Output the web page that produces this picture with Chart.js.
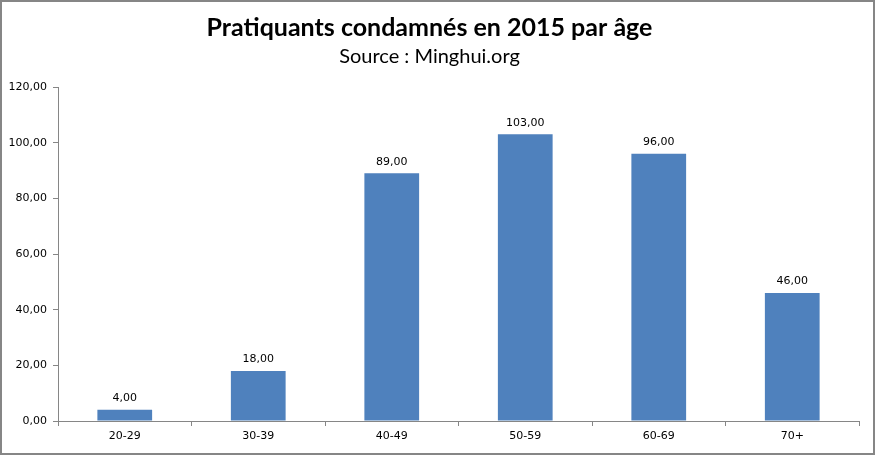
<!DOCTYPE html>
<html>
<head>
<meta charset="utf-8">
<script src="https://cdn.jsdelivr.net/npm/chart.js@4/dist/chart.umd.min.js"></script>
<style>
  html, body { margin: 0; padding: 0; background: #fff; }
  #wrap { width: 875px; height: 455px; position: relative; }
</style>
</head>
<body>
<div id="wrap"><canvas id="chart"></canvas></div>
<script>
const categories = ["20-29", "30-39", "40-49", "50-59", "60-69", "70+"];
const counts = [4, 18, 89, 103, 96, 46];
const yTicks = [0, 20, 40, 60, 80, 100, 120];

const fmt = (v) => v.toFixed(2).replace(".", ",");

// value labels above each bar
const barLabels = {
  id: "barLabels",
  afterDatasetsDraw(chart) {
    const ctx = chart.ctx;
    const meta = chart.getDatasetMeta(0);
    ctx.save();
    ctx.font = "11px 'DejaVu Sans', sans-serif";
    ctx.fillStyle = "#000";
    ctx.textAlign = "center";
    ctx.textBaseline = "bottom";
    meta.data.forEach((bar, i) => {
      ctx.fillText(fmt(counts[i]), bar.x, bar.y - 6);
    });
    ctx.restore();
  }
};

// grey frame round the whole chart
const frame = {
  id: "frame",
  afterDraw(chart) {
    const ctx = chart.ctx;
    ctx.save();
    ctx.strokeStyle = "#868686";
    ctx.lineWidth = 2;
    ctx.strokeRect(1, 1, chart.width - 2, chart.height - 2);
    ctx.restore();
  }
};

new Chart(document.getElementById("chart"), {
  type: "bar",
  data: {
    labels: categories,
    datasets: [{
      data: counts,
      backgroundColor: "#4F81BD",
      categoryPercentage: 0.41,
      barPercentage: 1
    }]
  },
  options: {
    responsive: true,
    maintainAspectRatio: false,
    animation: false,
    layout: { padding: { top: 13, right: 16, bottom: 0, left: 0 } },
    plugins: {
      legend: { display: false },
      tooltip: { enabled: false },
      title: {
        display: true,
        text: "Pratiquants condamnés en 2015 par âge",
        color: "#000",
        font: { family: "Lato, 'Open Sans', sans-serif", size: 25, weight: "bold" },
        padding: { top: 0, bottom: 2 }
      },
      subtitle: {
        display: true,
        text: "Source : Minghui.org",
        color: "#000",
        font: { family: "Lato, 'Open Sans', sans-serif", size: 20 },
        padding: { top: 0, bottom: 18 }
      }
    },
    scales: {
      x: {
        grid: { display: true, drawOnChartArea: false, color: "#868686", tickLength: 5, offset: true },
        border: { color: "#868686", width: 1 },
        ticks: { color: "#000", font: { family: "'DejaVu Sans', sans-serif", size: 11 }, padding: 4 },
        afterFit(scale) { scale.height = 34; }
      },
      y: {
        min: 0,
        max: 120,
        afterBuildTicks(scale) { scale.ticks = yTicks.map((v) => ({ value: v })); },
        grid: { display: true, drawOnChartArea: false, color: "#868686", tickLength: 5 },
        border: { color: "#868686", width: 1 },
        ticks: {
          color: "#000",
          font: { family: "'DejaVu Sans', sans-serif", size: 11 },
          padding: 6,
          callback: (v) => fmt(v)
        },
        afterFit(scale) { scale.width = 58; }
      }
    }
  },
  plugins: [barLabels, frame]
});
</script>
</body>
</html>
